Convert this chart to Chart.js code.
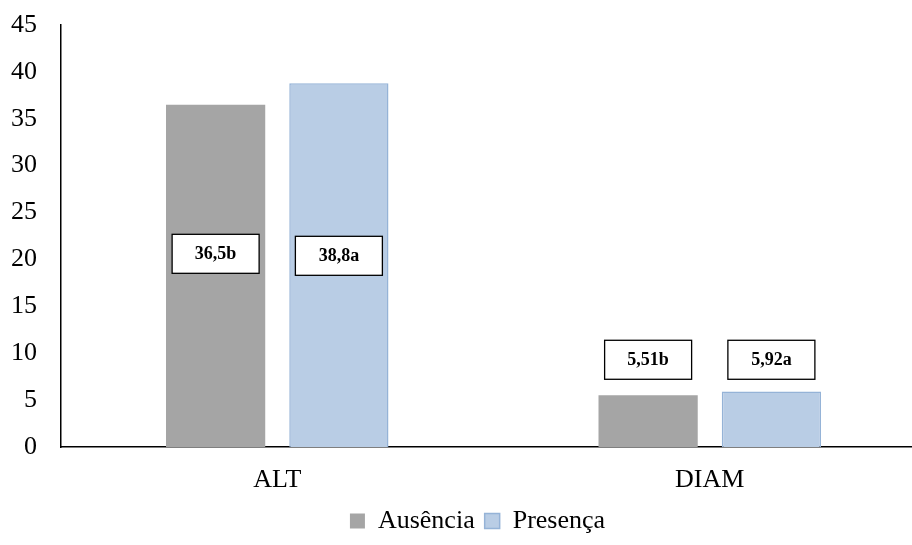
<!DOCTYPE html>
<html>
<head>
<meta charset="utf-8">
<script src="https://cdn.jsdelivr.net/npm/chart.js@4/dist/chart.umd.min.js"></script>
<style>
  html, body { margin: 0; padding: 0; background: #fff; overflow: hidden; }
  #wrap { width: 912px; height: 545px; overflow: hidden; }
  #wrap div { width: 926px; height: 545px; position: relative; }
</style>
</head>
<body>
<div id="wrap"><div><canvas id="bars"></canvas></div></div>
<script>
categories = ["ALT", "DIAM"];
ausencia = [36.5, 5.51];
presenca = [38.8, 5.92];
ausenciaLabels = ["36,5b", "5,51b"];
presencaLabels = ["38,8a", "5,92a"];
yTicks = [0, 5, 10, 15, 20, 25, 30, 35, 40, 45];

const serif = "'Liberation Serif', 'Times New Roman', serif";

// boxed value labels, placed through the chart's own scales
const boxLabels = {
     id: "boxLabels",
     afterLayout(chart) {
          // legend sits a little right of the canvas centre
          chart.legend.left += 14.5;
          chart.legend.right += 14.5;
     },
     afterDatasetsDraw(chart) {
          const ctx = chart.ctx;
          const y = chart.scales.y;
          const anchor = [20.6, 9.3];
          const texts = [ausenciaLabels, presencaLabels];
          ctx.save();
          ctx.font = "bold 18px " + serif;
          ctx.textAlign = "center";
          ctx.textBaseline = "middle";
          chart.data.datasets.forEach((ds, di) => {
               chart.getDatasetMeta(di).data.forEach((bar, i) => {
                    const cy = y.getPixelForValue(anchor[i]) + (i === 0 ? di * 2 : 0);
                    const w = 87, h = 39;
                    ctx.fillStyle = "#fff";
                    ctx.fillRect(bar.x - w / 2, cy - h / 2, w, h);
                    ctx.strokeStyle = "#000";
                    ctx.lineWidth = 1.3;
                    ctx.strokeRect(bar.x - w / 2, cy - h / 2, w, h);
                    ctx.fillStyle = "#000";
                    ctx.fillText(texts[di][i], bar.x, cy + 1);
               });
          });
          ctx.restore();
     }
};

new Chart("bars", {
     type: "bar",
     data: {
          labels: categories,
          datasets: [{
               label: "Ausência",
               data: ausencia,
               backgroundColor: "#A5A5A5",
               borderWidth: 0,
               barPercentage: 0.805,
               categoryPercentage: 0.57
          }, {
               label: "Presença",
               data: presenca,
               backgroundColor: "#B9CDE5",
               borderColor: "#95B3D7",
               borderWidth: 1.5,
               barPercentage: 0.805,
               categoryPercentage: 0.57
          }]
     },
     plugins: [boxLabels],
     options: {
          responsive: true,
          maintainAspectRatio: false,
          animation: false,
          layout: { padding: { top: 0, left: 0, right: 0, bottom: 1 } },
          plugins: {
               tooltip: { enabled: false },
               legend: {
                    position: "bottom",
                    labels: {
                         color: "#000",
                         boxWidth: 15,
                         boxHeight: 15,
                         padding: 10,
                         font: { family: serif, size: 26 }
                    }
               }
          },
          scales: {
               x: {
                    afterFit(scale) { scale.height = 51; },
                    grid: { display: false, drawTicks: false },
                    border: { display: true, color: "#000", width: 1.5 },
                    ticks: {
                         color: "#000",
                         padding: 18,
                         font: { family: serif, size: 26 }
                    }
               },
               y: {
                    min: 0,
                    max: 45,
                    afterFit(scale) {
                         scale.width = 61;
                         scale.paddingTop = 25;
                         scale.paddingBottom = 0;
                    },
                    afterBuildTicks(scale) { scale.ticks = yTicks.map(v => ({ value: v })); },
                    grid: { display: false, drawTicks: false },
                    border: { display: true, color: "#000", width: 1.5 },
                    ticks: {
                         color: "#000",
                         padding: 24,
                         font: { family: serif, size: 26 }
                    }
               }
          }
     }
});
</script>
</body>
</html>
